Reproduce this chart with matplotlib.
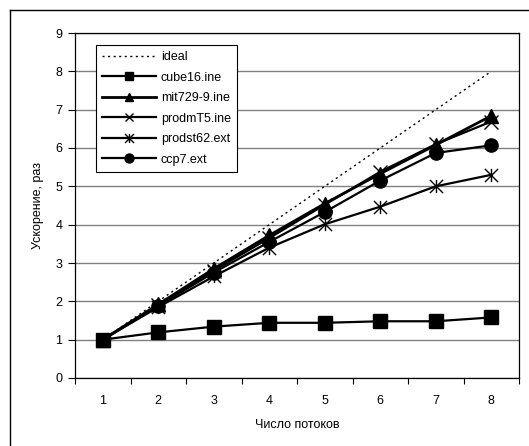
import numpy as np
import matplotlib
matplotlib.use('Agg')
import matplotlib.pyplot as plt
from matplotlib.path import Path
from matplotlib.lines import Line2D

plt.rcParams['font.family'] = ['Liberation Sans', 'DejaVu Sans']
plt.rcParams['font.size'] = 9

threads = [1, 2, 3, 4, 5, 6, 7, 8]
ideal = [1, 2, 3, 4, 5, 6, 7, 8]
cube16 = [1.0, 1.19, 1.34, 1.44, 1.44, 1.48, 1.48, 1.58]
mit729 = [1.0, 1.92, 2.85, 3.72, 4.55, 5.33, 6.08, 6.84]
prodmT5 = [1.0, 1.9, 2.8, 3.65, 4.52, 5.38, 6.1, 6.69]
prodst62 = [1.0, 1.85, 2.65, 3.4, 4.01, 4.47, 5.0, 5.3]
ccp7 = [1.0, 1.88, 2.75, 3.55, 4.33, 5.15, 5.87, 6.07]

# звёздочка как в Excel: крест + вертикаль
star = Path([(-1, -1), (1, 1), (-1, 1), (1, -1), (0, -1), (0, 1)],
            [Path.MOVETO, Path.LINETO, Path.MOVETO, Path.LINETO,
             Path.MOVETO, Path.LINETO])

fig = plt.figure(figsize=(5.29, 4.46), dpi=100)
ax = fig.add_axes([75 / 529, 1 - 378 / 446, 444 / 529, 345 / 446])

ax.plot(threads, ideal, color='black', lw=1.0, linestyle=(0, (1.5, 2.5)),
        label='ideal')
ax.plot(threads, cube16, color='black', lw=1.6, marker='s', ms=9.5,
        label='cube16.ine')
ax.plot(threads, mit729, color='black', lw=2.0, marker='^', ms=9.5,
        label='mit729-9.ine')
ax.plot(threads, prodmT5, color='black', lw=1.6, marker='x', ms=9.5,
        mew=1.0, label='prodmT5.ine')
ax.plot(threads, prodst62, color='black', lw=1.6, marker=star, ms=9.5,
        mew=1.0, label='prodst62.ext')
ax.plot(threads, ccp7, color='black', lw=1.6, marker='o', ms=9.5,
        label='ccp7.ext')

ax.set_xlim(0.5, 8.5)
ax.set_ylim(0, 9)
ax.set_yticks(range(0, 10))
ax.set_xticks(threads)
ax.set_xticks(np.arange(0.5, 9, 1), minor=True)
ax.tick_params(axis='x', which='major', length=0, pad=12)
ax.tick_params(axis='x', which='minor', length=4, direction='out', width=0.8)
ax.tick_params(axis='y', length=5, direction='out', width=0.8, pad=4)
ax.grid(axis='y', color='#808080', lw=1.0)
ax.set_axisbelow(True)
for s in ax.spines.values():
    s.set_linewidth(0.9)
    s.set_color('black')

ax.set_xlabel('Число потоков', labelpad=9)
ax.set_ylabel('Ускорение, раз', labelpad=8)

leg = ax.legend(loc='upper left', bbox_to_anchor=(0.047, 0.965),
                borderaxespad=0, fancybox=False, framealpha=1,
                edgecolor='black', handlelength=4.3, labelspacing=0.68,
                handletextpad=0.4, borderpad=0.5, markerscale=0.68)
leg.get_frame().set_linewidth(0.8)

# рамка вокруг всей диаграммы
fig.add_artist(Line2D([10 / 529, 10 / 529], [0, 1 - 10 / 446],
                      color='black', lw=1.0))
fig.add_artist(Line2D([10 / 529, 1], [1 - 10 / 446, 1 - 10 / 446],
                      color='black', lw=1.0))

fig.savefig('out.png', dpi=100)
